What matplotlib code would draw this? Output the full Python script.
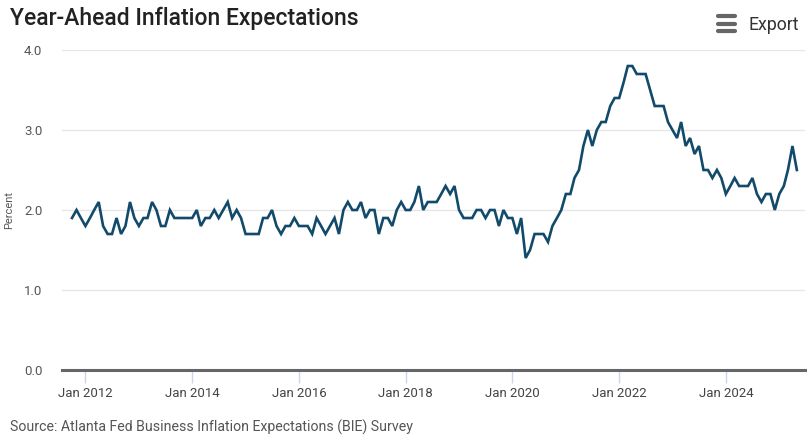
import matplotlib
matplotlib.use("Agg")
import matplotlib.pyplot as plt
import matplotlib.dates as mdates
import pandas as pd

# monthly survey readings, Oct 2011 onward
start_month = "2011-10-01"
expectations = [
    1.9, 2.0, 1.9, 1.8, 1.9, 2.0, 2.1, 1.8, 1.7, 1.7, 1.9, 1.7,
    1.8, 2.1, 1.9, 1.8, 1.9, 1.9, 2.1, 2.0, 1.8, 1.8, 2.0, 1.9,
    1.9, 1.9, 1.9, 1.9, 2.0, 1.8, 1.9, 1.9, 2.0, 1.9, 2.0, 2.1,
    1.9, 2.0, 1.9, 1.7, 1.7, 1.7, 1.7, 1.9, 1.9, 2.0, 1.8, 1.7,
    1.8, 1.8, 1.9, 1.8, 1.8, 1.8, 1.7, 1.9, 1.8, 1.7, 1.8, 1.9,
    1.7, 2.0, 2.1, 2.0, 2.0, 2.1, 1.9, 2.0, 2.0, 1.7, 1.9, 1.9,
    1.8, 2.0, 2.1, 2.0, 2.0, 2.1, 2.3, 2.0, 2.1, 2.1, 2.1, 2.2,
    2.3, 2.2, 2.3, 2.0, 1.9, 1.9, 1.9, 2.0, 2.0, 1.9, 2.0, 2.0,
    1.8, 2.0, 1.9, 1.9, 1.7, 1.9, 1.4, 1.5, 1.7, 1.7, 1.7, 1.6,
    1.8, 1.9, 2.0, 2.2, 2.2, 2.4, 2.5, 2.8, 3.0, 2.8, 3.0, 3.1,
    3.1, 3.3, 3.4, 3.4, 3.6, 3.8, 3.8, 3.7, 3.7, 3.7, 3.5, 3.3,
    3.3, 3.3, 3.1, 3.0, 2.9, 3.1, 2.8, 2.9, 2.7, 2.8, 2.5, 2.5,
    2.4, 2.5, 2.4, 2.2, 2.3, 2.4, 2.3, 2.3, 2.3, 2.4, 2.2, 2.1,
    2.2, 2.2, 2.0, 2.2, 2.3, 2.5, 2.8, 2.5,
]
y_ticks = [0.0, 1.0, 2.0, 3.0, 4.0]
tick_years = [2012, 2014, 2016, 2018, 2020, 2022, 2024]

dates = pd.date_range(start_month, periods=len(expectations), freq="MS")

plt.rcParams["font.family"] = ["Roboto", "DejaVu Sans"]

fig = plt.figure(figsize=(8.09, 4.41), dpi=100)
ax = fig.add_axes([0.0766, 0.161, 0.918, 0.7256])

ax.plot(dates, expectations, color="#124a6b", linewidth=1.9, solid_joinstyle="miter")

ax.set_ylim(0, 4)
ax.set_yticks(y_ticks)
ax.set_yticklabels(["%.1f" % v for v in y_ticks])
x0 = mdates.date2num(dates[0]) - 2.25 * 30.44
x1 = mdates.date2num(dates[-1]) + 1.75 * 30.44
ax.set_xlim(x0, x1)
ax.set_xticks([mdates.date2num(pd.Timestamp(f"{y}-01-01")) for y in tick_years])
ax.set_xticklabels([f"Jan {y}" for y in tick_years])

ax.grid(axis="y", color="#e6e6e6", linewidth=1)
ax.set_axisbelow(True)
for s in ["top", "right", "left"]:
    ax.spines[s].set_visible(False)
ax.spines["bottom"].set_color("#666666")
ax.spines["bottom"].set_linewidth(2.2)
ax.tick_params(axis="y", length=0, labelsize=9.5, labelcolor="#555555", pad=14)
ax.tick_params(axis="x", length=9, width=1, color="#ccd6eb", labelsize=9.5,
               labelcolor="#444444", pad=3)

ax.set_ylabel("Percent", fontsize=8, color="#555555", labelpad=7)

fig.text(0.012, 0.958, "Year-Ahead Inflation Expectations", fontsize=16.5,
         fontweight="medium", color="#222222", va="center", ha="left")

# hamburger icon + export label
for dy in (-0.017, 0.0, 0.017):
    fig.add_artist(plt.Line2D([0.888, 0.909], [0.946 + dy, 0.946 + dy],
                              color="#666666", linewidth=3, solid_capstyle="round"))
fig.text(0.925, 0.944, "Export", fontsize=12.8, color="#333333", va="center", ha="left")

fig.text(0.012, 0.03, "Source: Atlanta Fed Business Inflation Expectations (BIE) Survey",
         fontsize=10.2, color="#555555", va="center", ha="left")

fig.savefig("out.png", dpi=100)
